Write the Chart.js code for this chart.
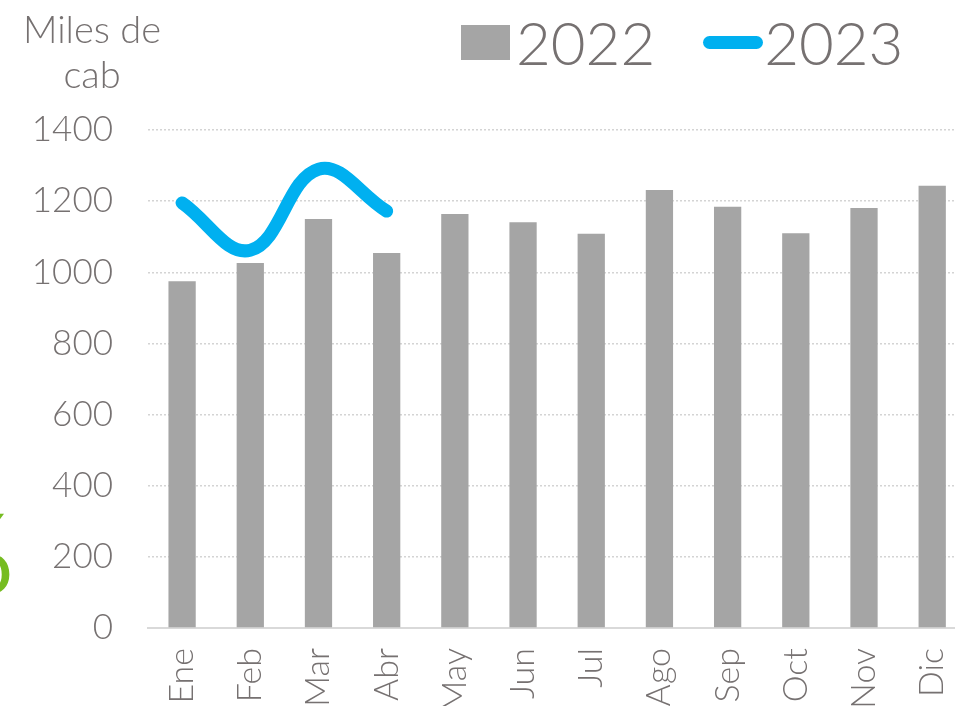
<!DOCTYPE html>
<html lang="es">
<head>
<meta charset="utf-8">
<script src="https://cdn.jsdelivr.net/npm/chart.js@4/dist/chart.umd.min.js"></script>
<style>
  html, body { margin: 0; padding: 0; background: #fff; overflow: hidden; }
  body { width: 955px; height: 706px; position: relative; font-family: Lato, "Open Sans", sans-serif; }
  #wrap { position: absolute; left: 0; top: 0; width: 993px; height: 706px; }
  #titulo_eje {
    position: absolute; left: 4px; top: 6px; width: 176px;
    text-align: center; color: #767171; font-size: 38px; line-height: 45px; font-weight: 300;
  }
  #leyenda {
    position: absolute; left: 461px; top: 6px; display: flex; align-items: center;
    color: #767171; font-size: 60px; font-weight: 300;
  }
  .item { display: flex; align-items: center; margin-right: 48px; }
  .caja { width: 49px; height: 35px; margin-right: 6px; }
  .linea { width: 60px; height: 13px; border-radius: 7px; margin-right: 1px; }
  #resto { position: absolute; left: -74px; top: 484px; color: #76bc21; font-size: 110px; font-weight: 400; }
</style>
</head>
<body>
<div id="wrap"><canvas id="grafico"></canvas></div>
<div id="titulo_eje">Miles de<br>cab</div>
<div id="leyenda"></div>
<div id="resto">%</div>
<script>
// datos
const meses = ['Ene', 'Feb', 'Mar', 'Abr', 'May', 'Jun', 'Jul', 'Ago', 'Sep', 'Oct', 'Nov', 'Dic'];
const valores2022 = [975, 1026, 1150, 1054, 1164, 1141, 1108, 1231, 1184, 1110, 1181, 1243];
const valores2023 = [1195, 1062, 1290, 1172, null, null, null, null, null, null, null, null];
const ticksY = [0, 200, 400, 600, 800, 1000, 1200, 1400];

const GRIS = '#a5a5a5';
const AZUL = '#00b0f0';
const TEXTO = '#767171';

const datasets = [
  {
    type: 'bar',
    label: '2022',
    data: valores2022,
    backgroundColor: GRIS,
    borderWidth: 0,
    barPercentage: 0.4,
    categoryPercentage: 1,
    order: 2,
  },
  {
    type: 'line',
    label: '2023',
    data: valores2023,
    borderColor: AZUL,
    backgroundColor: AZUL,
    borderWidth: 13,
    borderCapStyle: 'round',
    borderJoinStyle: 'round',
    tension: 0.4,
    pointRadius: 0,
    pointHoverRadius: 0,
    fill: false,
    order: 1,
  },
];

const ctx = document.getElementById('grafico').getContext('2d');
const grafico = new Chart(ctx, {
  data: { labels: meses, datasets: datasets },
  options: {
    responsive: true,
    maintainAspectRatio: false,
    animation: false,
    layout: { padding: { top: 130, left: 0, right: 0, bottom: 0 } },
    plugins: {
      legend: { display: false },
      tooltip: { enabled: false },
    },
    scales: {
      x: {
        grid: { display: false, drawTicks: false, tickLength: 0 },
        border: { display: true, color: '#d9d9d9', width: 2 },
        ticks: {
          color: TEXTO,
          font: { family: 'Lato', size: 34, weight: 300 },
          minRotation: 90,
          maxRotation: 90,
          autoSkip: false,
          padding: 20,
        },
        afterFit: (scale) => { scale.height = 78; },
      },
      y: {
        min: 0,
        max: 1400,
        afterBuildTicks: (scale) => { scale.ticks = ticksY.map((v) => ({ value: v })); },
        grid: {
          color: '#d4d4d4',
          lineWidth: 1.5,
          drawTicks: false,
          tickLength: 0,
        },
        border: { display: false, dash: [2, 2] },
        ticks: {
          color: TEXTO,
          font: { family: 'Lato', size: 35, weight: 300 },
          padding: 35,
          callback: (valor) => String(valor),
        },
        afterFit: (scale) => { scale.width = 148; },
      },
    },
  },
});

// leyenda en html, a partir de los datasets
const leyenda = document.getElementById('leyenda');
grafico.data.datasets.forEach((ds) => {
  const item = document.createElement('div');
  item.className = 'item';
  const marca = document.createElement('span');
  marca.className = ds.type === 'line' ? 'linea' : 'caja';
  marca.style.background = ds.type === 'line' ? ds.borderColor : ds.backgroundColor;
  const texto = document.createElement('span');
  texto.textContent = ds.label;
  item.appendChild(marca);
  item.appendChild(texto);
  leyenda.appendChild(item);
});
</script>
</body>
</html>
